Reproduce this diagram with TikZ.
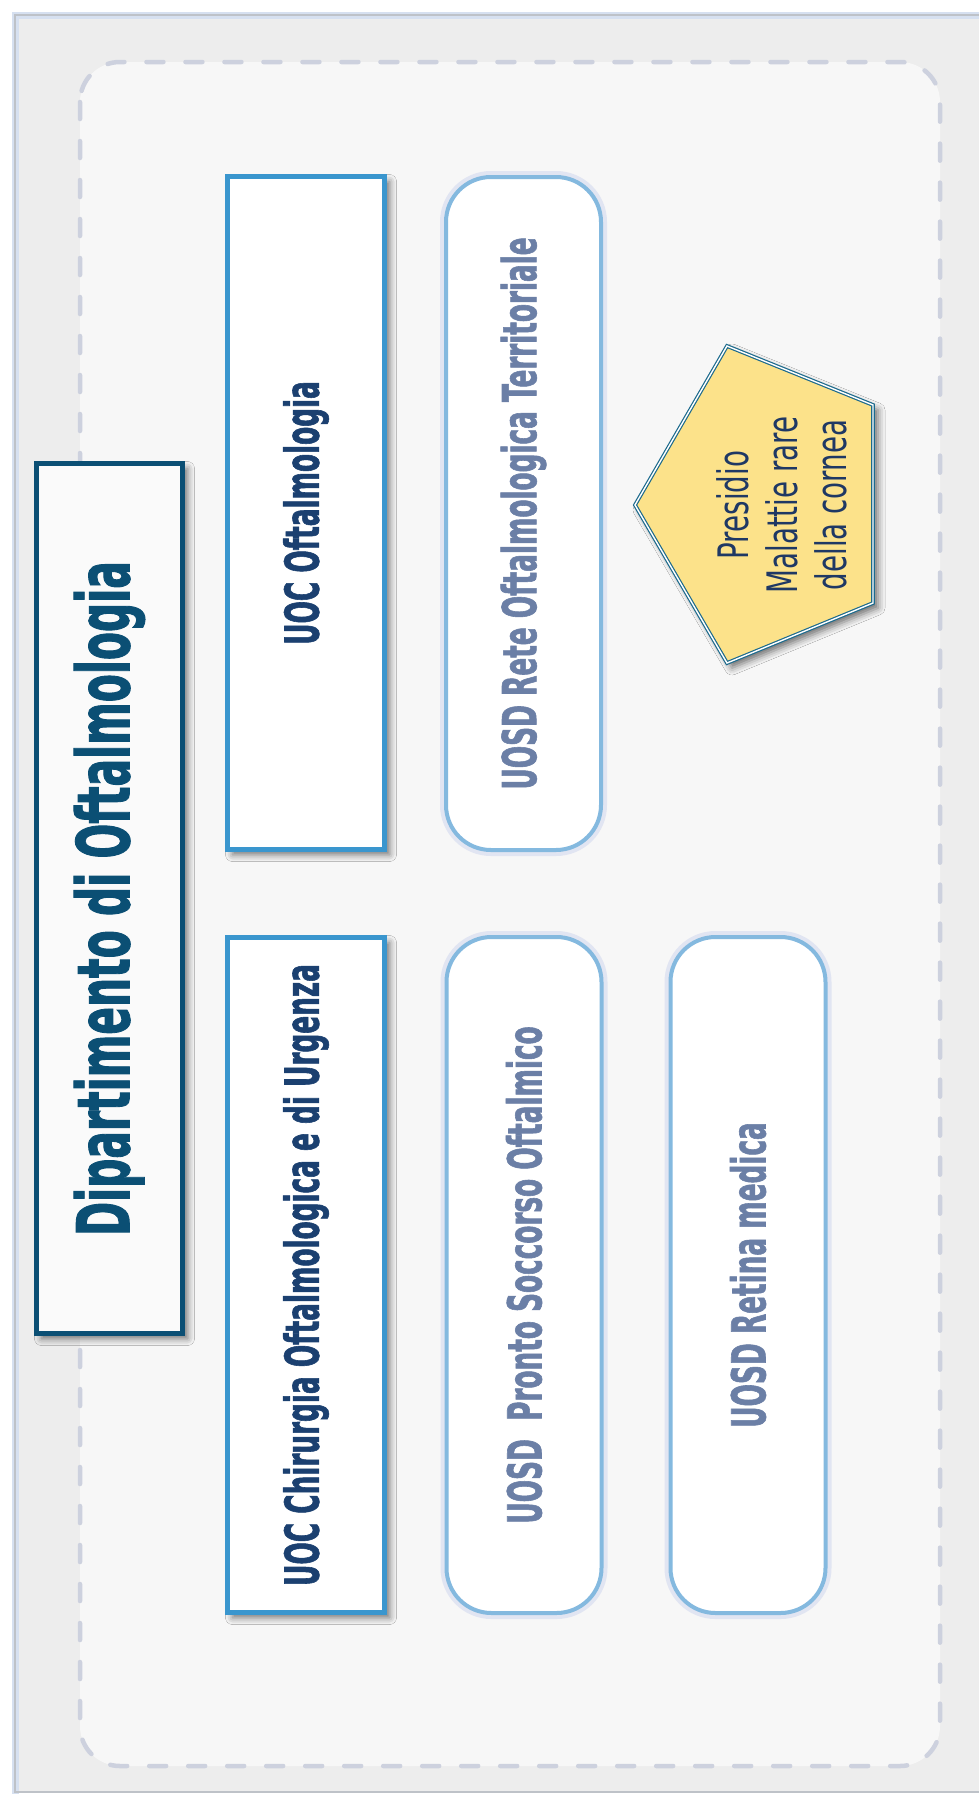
\documentclass[tikz,border=0pt]{standalone}
\usepackage{fontspec}
\setmainfont{DejaVu Sans}[FakeStretch=0.56, BoldFeatures={FakeBold=1.2}]
\newfontfamily\presfont{DejaVu Sans}[FakeStretch=0.66]
\usepackage{xcolor}
\usepackage{tikz}
\usetikzlibrary{shadows,shadows.blur}

\definecolor{framebg}{RGB}{237,237,237}
\definecolor{frameline}{RGB}{190,194,200}
\definecolor{frameglow}{RGB}{214,224,240}
\definecolor{panelbg}{RGB}{247,247,247}
\definecolor{paneldash}{RGB}{205,209,222}
\definecolor{deptblue}{RGB}{11,79,116}
\definecolor{uocline}{RGB}{58,150,206}
\definecolor{uoctext}{RGB}{27,64,112}
\definecolor{uosdline}{RGB}{132,185,223}
\definecolor{uosdtext}{RGB}{107,127,166}
\definecolor{uosdglow}{RGB}{216,222,240}
\definecolor{presfill}{RGB}{252,226,138}
\definecolor{presline}{RGB}{28,106,140}
\definecolor{prestext}{RGB}{31,56,100}

\tikzset{
  boxshadow/.style={blur shadow={shadow xshift=5pt, shadow yshift=-5pt, shadow blur radius=7pt, shadow opacity=55}},
  deptbox/.style={draw=deptblue, line width=5pt, fill=white!98!black, boxshadow, text=deptblue,
    font=\fontsize{73}{80}\selectfont\bfseries, inner sep=0pt},
  uocbox/.style={draw=uocline, line width=5.5pt, fill=white, boxshadow, text=uoctext,
    minimum width=157pt, font=\fontsize{47}{54}\selectfont\bfseries, inner sep=0pt},
  uosdbox/.style={draw=uosdline, line width=4pt, fill=white, rounded corners=45pt,
    preaction={draw=uosdglow, line width=12pt, opacity=0.7},
    minimum width=155pt, text=uosdtext, font=\fontsize{47}{54}\selectfont\bfseries, inner sep=0pt},
  presshape/.style={draw=presline, line width=1.2pt, double=white, double distance=1.4pt,
    fill=presfill, boxshadow},
  prestxt/.style={text=prestext, align=center, font=\presfont\fontsize{42}{49}\selectfont, inner sep=0pt}
}

\begin{document}
\begin{tikzpicture}[x=1pt,y=1pt,yscale=-1,xscale=1]
	\useasboundingbox (0,0) rectangle (979,1794);
	\clip (0,0) rectangle (979,1794);

	%Shape: Frame
	\fill[framebg] (15,15) rectangle (1000,1792);
	\draw[frameglow, line width=7pt] (15,1800) -- (15,15) -- (1000,15);
	\draw[frameline, line width=1.5pt] (1000,1792) -- (15,1792) -- (15,15) -- (1000,15);
	%Shape: Dashed Panel
	\draw[paneldash, fill=panelbg, line width=4.5pt, dash pattern=on 17pt off 22pt, line cap=round, rounded corners=40pt] (80,62) rectangle (940,1766);

	% Department
	\node[deptbox, minimum width=146pt, minimum height=870pt] (dept) at (109.5,898.5) {\rotatebox{90}{Dipartimento di Oftalmologia}};

	% UOC
	\node[uocbox, minimum height=673pt] (uocoft) at (306,513) {\rotatebox{90}{UOC Oftalmologia}};
	\node[uocbox, minimum height=675pt] (uocchir) at (306,1275) {\rotatebox{90}{UOC Chirurgia Oftalmologica e di Urgenza}};

	% UOSD
	\node[uosdbox, minimum height=673pt] (uosdrete) at (523.5,513.5) {\rotatebox{90}{UOSD Rete Oftalmologica Territoriale}};
	\node[uosdbox, minimum height=676pt] (uosdps) at (524,1275) {\rotatebox{90}{UOSD\ \ Pronto Soccorso Oftalmico}};
	\node[uosdbox, minimum height=676pt] (uosdretina) at (748,1275) {\rotatebox{90}{UOSD Retina medica}};

	%Shape: Pentagon
	\draw[presshape] (635,505) -- (727,346) -- (873,405) -- (873,603) -- (727,663) -- cycle;
	% Text Node
	\node[prestxt, rotate=90] (presidio) at (782,505) {Presidio\\Malattie rare\\della cornea};
\end{tikzpicture}
\end{document}
